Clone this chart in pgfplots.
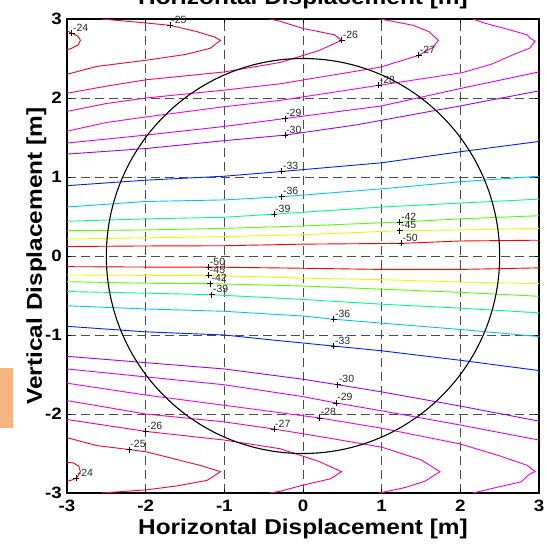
\documentclass[border=0pt]{standalone}
\usepackage{fontspec}
\setmainfont{Liberation Sans}
\newfontfamily\widefont[FakeStretch=1.14]{Liberation Sans}
\usepackage{pgfplots}
\pgfplotsset{compat=1.18}

% hsv contour colours, -50 (red) ... -24 (red again)
\definecolor{c50}{rgb}{1,0,0}
\definecolor{c45}{rgb}{0.9,1,0}
\definecolor{c42}{rgb}{0.35,1,0}
\definecolor{c39}{rgb}{0,1,0.53}
\definecolor{c36}{rgb}{0,0.77,1}
\definecolor{c33}{rgb}{0,0.12,1}
\definecolor{c30}{rgb}{0.62,0,1}
\definecolor{c29}{rgb}{0.85,0,1}
\definecolor{c28}{rgb}{1,0,0.92}
\definecolor{c27}{rgb}{1,0,0.7}
\definecolor{c26}{rgb}{1,0,0.47}
\definecolor{c25}{rgb}{1,0,0.23}
\definecolor{c24}{rgb}{1,0,0.02}
\definecolor{tab}{rgb}{0.96,0.71,0.51}

\pgfplotstableread{
x y lab
-2.94 2.82 -24
-1.69 2.92 -25
0.49 2.73 -26
1.47 2.54 -27
0.96 2.16 -28
-0.23 1.74 -29
-0.23 1.53 -30
-0.27 1.07 -33
-0.27 0.75 -36
-0.37 0.53 -39
1.23 0.43 -42
1.23 0.32 -45
1.25 0.16 -50
-1.20 -0.14 -50
-1.20 -0.245 -45
-1.18 -0.35 -42
-1.16 -0.49 -39
0.39 -0.80 -36
0.39 -1.14 -33
0.44 -1.63 -30
0.42 -1.86 -29
0.21 -2.05 -28
-0.37 -2.19 -27
-2.00 -2.22 -26
-2.21 -2.45 -25
-2.88 -2.81 -24
}\labels

\begin{document}
\begin{tikzpicture}
\begin{axis}[
  at={(0,0)}, anchor=south west,
  scale only axis, width=472bp, height=474bp,
  xmin=-3, xmax=3, ymin=-3, ymax=3,
  xtick={-3,...,3}, ytick={-3,...,3},
  xticklabels={-3,-2,-1,0,1,2,3},
  yticklabels={-3,-2,-1,0,1,2,3},
  tick align=inside, major tick length=4bp,
  tick style={black, line width=0.8bp},
  grid=major,
  major grid style={black!70, dash pattern=on 9bp off 5bp, line width=0.8bp},
  axis line style={black, line width=1.2bp},
  ticklabel style={font=\widefont\fontsize{16.5}{18}\selectfont\bfseries, inner sep=0pt},
  xticklabel style={yshift=-7bp},
  yticklabel style={xshift=-5bp},
  xlabel={Horizontal Displacement [m]},
  ylabel={Vertical Displacement [m]},
  title={Horizontal Displacement [m]},
  label style={font=\widefont\fontsize{21.5}{24}\selectfont\bfseries},
  title style={font=\widefont\fontsize{21.5}{24}\selectfont\bfseries,
    at={(axis description cs:0.5,1.019)}, anchor=base, inner sep=0pt},
  xlabel style={at={(axis description cs:0.5,-0.0886)}, anchor=base, inner sep=0pt},
  ylabel style={at={(axis description cs:-0.053,0.5)}, anchor=base, inner sep=0pt},
  clip mode=individual,
  every axis plot/.append style={line width=0.9bp},
]
% ---- upper half ----
\addplot[c24] coordinates {(-3,2.85) (-2.94,2.82) (-2.86,2.78) (-2.83,2.73) (-2.86,2.67) (-2.94,2.63) (-3,2.61)};
\addplot[c25] coordinates {(-2.56,3) (-2.0,2.95) (-1.69,2.92) (-1.35,2.84) (-1.12,2.77) (-1.05,2.73) (-1.18,2.63) (-1.5,2.55) (-1.98,2.48) (-2.62,2.40) (-3,2.30)};
\addplot[c26] coordinates {(-3,2.06) (-2.5,2.15) (-2,2.23) (-1,2.33) (-0.29,2.45) (0.2,2.6) (0.49,2.73) (0.4,2.8) (0,2.88) (-0.29,2.97) (-0.42,3.0)};
\addplot[c27] coordinates {(-3,1.83) (-2.5,1.93) (-2,2.0) (-1,2.10) (-0.29,2.18) (0.98,2.39) (1.47,2.54) (1.65,2.64) (1.72,2.73) (1.6,2.84) (1.40,2.92) (0.98,3.0)};
\addplot[c28] coordinates {(-3,1.58) (-2.5,1.69) (-2,1.76) (-1,1.89) (-0.29,1.97) (0.96,2.16) (2.02,2.32) (2.4,2.43) (2.7,2.56) (2.88,2.63) (2.95,2.72) (2.88,2.76) (2.85,2.8) (2.6,2.87) (2.3,2.95) (2.16,3.0)};
\addplot[c29] coordinates {(-3,1.43) (-2,1.53) (-1,1.64) (-0.23,1.74) (1,1.90) (2,2.12) (3,2.33)};
\addplot[c30] coordinates {(-3,1.29) (-2,1.36) (-1,1.46) (-0.23,1.53) (0.68,1.66) (2,1.90) (3,2.09)};
\addplot[c33] coordinates {(-3,0.89) (-2,0.96) (-1,1.01) (-0.27,1.07) (1,1.18) (2,1.32) (3,1.45)};
\addplot[c36] coordinates {(-3,0.62) (-2,0.69) (-1,0.71) (-0.27,0.75) (1,0.85) (2,0.94) (3,1.01)};
\addplot[c39] coordinates {(-3,0.44) (-2,0.47) (-1,0.49) (-0.37,0.53) (1,0.62) (2,0.67) (3,0.72)};
\addplot[c42] coordinates {(-3,0.32) (-2,0.33) (-1,0.35) (0,0.38) (1.23,0.43) (2,0.47) (3,0.51)};
\addplot[c45] coordinates {(-3,0.215) (-2,0.23) (-1,0.245) (0,0.27) (1.23,0.32) (2,0.33) (3,0.35)};
\addplot[c50] coordinates {(-3,0.12) (-2,0.127) (-1,0.13) (0,0.15) (1.25,0.16) (2,0.19) (3,0.20)};
% ---- lower half ----
\addplot[c50] coordinates {(-3,-0.135) (-2,-0.14) (-1.2,-0.14) (0,-0.155) (1,-0.17) (2,-0.17) (3,-0.15)};
\addplot[c45] coordinates {(-3,-0.24) (-2,-0.245) (-1.2,-0.245) (0,-0.28) (1,-0.30) (2,-0.33) (3,-0.35)};
\addplot[c42] coordinates {(-3,-0.325) (-2,-0.345) (-1.18,-0.35) (0,-0.38) (1,-0.42) (2,-0.46) (3,-0.51)};
\addplot[c39] coordinates {(-3,-0.45) (-2,-0.47) (-1.16,-0.49) (0,-0.55) (1,-0.61) (2,-0.66) (3,-0.72)};
\addplot[c36] coordinates {(-3,-0.63) (-2,-0.67) (-1,-0.70) (0,-0.76) (0.39,-0.80) (1,-0.85) (2,-0.93) (3,-1.02)};
\addplot[c33] coordinates {(-3,-0.89) (-2,-0.96) (-1,-1.0) (-0.42,-1.06) (0.39,-1.14) (1,-1.20) (2,-1.32) (3,-1.45)};
\addplot[c30] coordinates {(-3,-1.27) (-2,-1.35) (-1,-1.43) (0,-1.56) (0.44,-1.63) (1,-1.72) (2,-1.90) (3,-2.09)};
\addplot[c29] coordinates {(-3,-1.43) (-2,-1.53) (-1,-1.63) (0,-1.78) (0.42,-1.86) (1,-1.96) (2,-2.14) (3,-2.33)};
\addplot[c28] coordinates {(-3,-1.61) (-2,-1.76) (-1,-1.89) (0.21,-2.05) (1,-2.18) (2,-2.38) (2.5,-2.53) (2.85,-2.65) (2.9,-2.69) (2.95,-2.73) (2.88,-2.76) (2.77,-2.86) (2.5,-2.92) (2.16,-3.0)};
\addplot[c27] coordinates {(-3,-1.83) (-2,-2.0) (-1,-2.10) (-0.37,-2.19) (0.3,-2.30) (1,-2.42) (1.5,-2.58) (1.74,-2.73) (1.55,-2.85) (1.3,-2.93) (0.97,-3.0)};
\addplot[c26] coordinates {(-3,-2.07) (-2,-2.22) (-1,-2.33) (-0.29,-2.44) (0.2,-2.6) (0.49,-2.73) (0.35,-2.82) (0,-2.9) (-0.3,-2.98) (-0.42,-3.0)};
\addplot[c25] coordinates {(-3,-2.30) (-2.62,-2.40) (-2.21,-2.45) (-1.99,-2.48) (-1.31,-2.65) (-1.05,-2.73) (-1.22,-2.84) (-1.6,-2.91) (-1.99,-2.96) (-2.56,-3.0)};
\addplot[c24] coordinates {(-3,-2.61) (-2.92,-2.62) (-2.85,-2.66) (-2.83,-2.73) (-2.86,-2.78) (-2.88,-2.81) (-2.95,-2.84) (-3,-2.85)};
% circle of radius 2.5 m
\draw[black, line width=1.1bp] (axis cs:0,0) ellipse [x radius=2.5, y radius=2.5];
% contour labels
\addplot[only marks, mark=+, mark size=3bp, mark options={black, line width=0.7bp},
  nodes near coords, point meta=explicit symbolic,
  every node near coord/.append style={font=\fontsize{10.5}{12}\selectfont,
    text=black!85, anchor=south west, inner sep=0pt, xshift=1bp, yshift=1.5bp}]
  table[x=x, y=y, meta=lab] {\labels};
\end{axis}
\fill[tab] (-67bp,65bp) rectangle (-54.3bp,125bp);
\pgfresetboundingbox
\useasboundingbox (-67bp,-51bp) rectangle (480bp,493bp);
\end{tikzpicture}
\end{document}
